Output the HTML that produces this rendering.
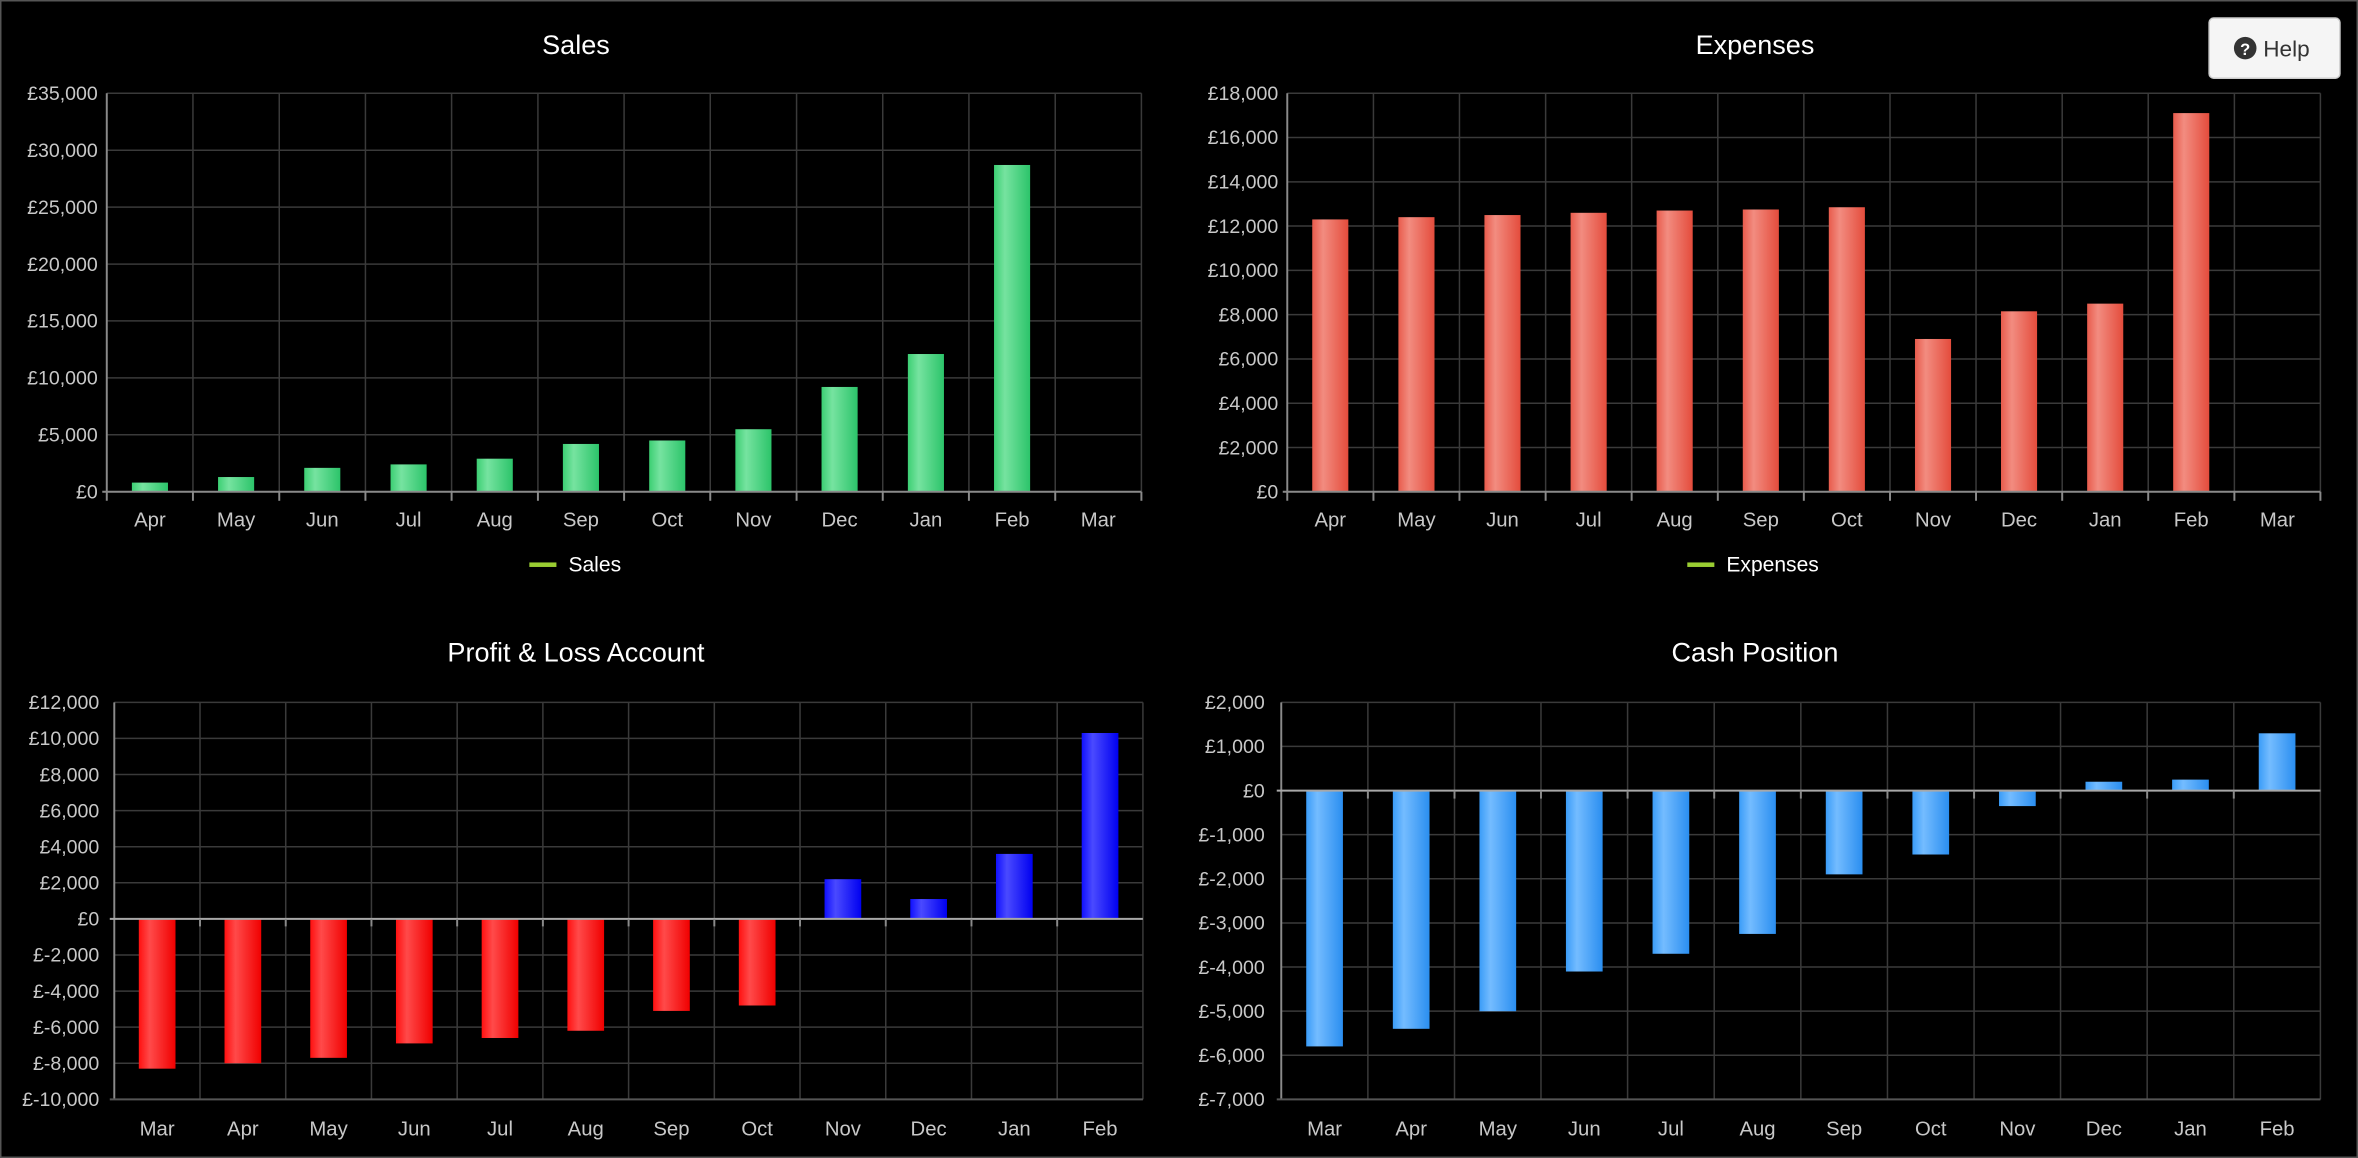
<!DOCTYPE html>
<html><head><meta charset="utf-8"><style>
html,body{margin:0;padding:0;background:#000;width:2358px;height:1158px;overflow:hidden}
svg{display:block}
text{font-family:"Liberation Sans",sans-serif}
.yl{fill:#c8c8c8;font-size:13px;text-anchor:end}
.xl{fill:#c8c8c8;font-size:13.5px;text-anchor:middle}
.t{fill:#fff;font-size:18px;text-anchor:middle}
.g{stroke:#3a3a3a;stroke-width:1}
.ax{stroke:#8a8a8a;stroke-width:1.3}
</style></head><body>
<svg width="2358" height="1158" viewBox="0 0 1568 770" preserveAspectRatio="none">
<defs>
<linearGradient id="gg" x1="0" x2="1"><stop offset="0" stop-color="#3ccf73"/><stop offset="0.3" stop-color="#76e3a0"/><stop offset="1" stop-color="#2cc46a"/></linearGradient>
<linearGradient id="gr" x1="0" x2="1"><stop offset="0" stop-color="#e85b4c"/><stop offset="0.3" stop-color="#f28c80"/><stop offset="1" stop-color="#e44c3c"/></linearGradient>
<linearGradient id="gp" x1="0" x2="1"><stop offset="0" stop-color="#ff1010"/><stop offset="0.3" stop-color="#ff4a4a"/><stop offset="1" stop-color="#f00000"/></linearGradient>
<linearGradient id="gb" x1="0" x2="1"><stop offset="0" stop-color="#1010ff"/><stop offset="0.3" stop-color="#4a4aff"/><stop offset="1" stop-color="#0000f0"/></linearGradient>
<linearGradient id="gc" x1="0" x2="1"><stop offset="0" stop-color="#3a9cf8"/><stop offset="0.3" stop-color="#74bcff"/><stop offset="1" stop-color="#2a8ef0"/></linearGradient>
</defs>
<rect x="0.5" y="0.5" width="1567" height="769" fill="#000" stroke="#555"/>

<!-- SALES -->
<text class="t" x="383" y="36">Sales</text>
<g class="g">
<line x1="71" y1="289.1" x2="759" y2="289.1"/><line x1="71" y1="251.3" x2="759" y2="251.3"/><line x1="71" y1="213.4" x2="759" y2="213.4"/><line x1="71" y1="175.6" x2="759" y2="175.6"/><line x1="71" y1="137.7" x2="759" y2="137.7"/><line x1="71" y1="99.9" x2="759" y2="99.9"/><line x1="71" y1="62" x2="759" y2="62"/>
<line x1="128.3" y1="62" x2="128.3" y2="327"/><line x1="185.7" y1="62" x2="185.7" y2="327"/><line x1="243" y1="62" x2="243" y2="327"/><line x1="300.3" y1="62" x2="300.3" y2="327"/><line x1="357.7" y1="62" x2="357.7" y2="327"/><line x1="415" y1="62" x2="415" y2="327"/><line x1="472.3" y1="62" x2="472.3" y2="327"/><line x1="529.7" y1="62" x2="529.7" y2="327"/><line x1="587" y1="62" x2="587" y2="327"/><line x1="644.3" y1="62" x2="644.3" y2="327"/><line x1="701.7" y1="62" x2="701.7" y2="327"/><line x1="759" y1="62" x2="759" y2="327"/>
</g>
<g fill="url(#gg)">
<rect x="87.7" y="320.9" width="24" height="6.1"/><rect x="145" y="317.2" width="24" height="9.8"/><rect x="202.3" y="311.1" width="24" height="15.9"/><rect x="259.7" y="308.8" width="24" height="18.2"/><rect x="317" y="305" width="24" height="22"/><rect x="374.3" y="295.2" width="24" height="31.8"/><rect x="431.7" y="292.9" width="24" height="34.1"/><rect x="489" y="285.4" width="24" height="41.6"/><rect x="546.3" y="257.3" width="24" height="69.7"/><rect x="603.7" y="235.4" width="24" height="91.6"/><rect x="661" y="109.7" width="24" height="217.3"/>
</g>
<g class="ax"><line x1="71" y1="62" x2="71" y2="333"/><line x1="68" y1="327" x2="759" y2="327"/>
<line x1="128.3" y1="327" x2="128.3" y2="333"/><line x1="185.7" y1="327" x2="185.7" y2="333"/><line x1="243" y1="327" x2="243" y2="333"/><line x1="300.3" y1="327" x2="300.3" y2="333"/><line x1="357.7" y1="327" x2="357.7" y2="333"/><line x1="415" y1="327" x2="415" y2="333"/><line x1="472.3" y1="327" x2="472.3" y2="333"/><line x1="529.7" y1="327" x2="529.7" y2="333"/><line x1="587" y1="327" x2="587" y2="333"/><line x1="644.3" y1="327" x2="644.3" y2="333"/><line x1="701.7" y1="327" x2="701.7" y2="333"/><line x1="759" y1="327" x2="759" y2="333"/></g>
<g class="yl">
<text x="65" y="331.5">£0</text><text x="65" y="293.6">£5,000</text><text x="65" y="255.8">£10,000</text><text x="65" y="217.9">£15,000</text><text x="65" y="180.1">£20,000</text><text x="65" y="142.2">£25,000</text><text x="65" y="104.4">£30,000</text><text x="65" y="66.5">£35,000</text>
</g>
<g class="xl">
<text x="99.7" y="350">Apr</text><text x="157" y="350">May</text><text x="214.3" y="350">Jun</text><text x="271.7" y="350">Jul</text><text x="329" y="350">Aug</text><text x="386.3" y="350">Sep</text><text x="443.7" y="350">Oct</text><text x="501" y="350">Nov</text><text x="558.3" y="350">Dec</text><text x="615.7" y="350">Jan</text><text x="673" y="350">Feb</text><text x="730.3" y="350">Mar</text>
</g>
<rect x="352" y="374" width="18" height="3" fill="#9acd32"/>
<text x="378" y="380" fill="#fff" font-size="14">Sales</text>

<!-- EXPENSES -->
<text class="t" x="1167" y="36">Expenses</text>
<g class="g">
<line x1="856" y1="297.6" x2="1543" y2="297.6"/><line x1="856" y1="268.1" x2="1543" y2="268.1"/><line x1="856" y1="238.7" x2="1543" y2="238.7"/><line x1="856" y1="209.2" x2="1543" y2="209.2"/><line x1="856" y1="179.8" x2="1543" y2="179.8"/><line x1="856" y1="150.3" x2="1543" y2="150.3"/><line x1="856" y1="120.9" x2="1543" y2="120.9"/><line x1="856" y1="91.4" x2="1543" y2="91.4"/><line x1="856" y1="62" x2="1543" y2="62"/>
<line x1="913.3" y1="62" x2="913.3" y2="327"/><line x1="970.5" y1="62" x2="970.5" y2="327"/><line x1="1027.8" y1="62" x2="1027.8" y2="327"/><line x1="1085" y1="62" x2="1085" y2="327"/><line x1="1142.3" y1="62" x2="1142.3" y2="327"/><line x1="1199.5" y1="62" x2="1199.5" y2="327"/><line x1="1256.8" y1="62" x2="1256.8" y2="327"/><line x1="1314" y1="62" x2="1314" y2="327"/><line x1="1371.3" y1="62" x2="1371.3" y2="327"/><line x1="1428.5" y1="62" x2="1428.5" y2="327"/><line x1="1485.8" y1="62" x2="1485.8" y2="327"/><line x1="1543" y1="62" x2="1543" y2="327"/>
</g>
<g fill="url(#gr)">
<rect x="872.6" y="145.9" width="24" height="181.1"/><rect x="929.9" y="144.4" width="24" height="182.6"/><rect x="987.1" y="143" width="24" height="184"/><rect x="1044.4" y="141.5" width="24" height="185.5"/><rect x="1101.6" y="140" width="24" height="187"/><rect x="1158.9" y="139.3" width="24" height="187.7"/><rect x="1216.1" y="137.8" width="24" height="189.2"/><rect x="1273.4" y="225.4" width="24" height="101.6"/><rect x="1330.6" y="207" width="24" height="120"/><rect x="1387.9" y="201.9" width="24" height="125.1"/><rect x="1445.1" y="75.2" width="24" height="251.8"/>
</g>
<g class="ax"><line x1="856" y1="62" x2="856" y2="333"/><line x1="853" y1="327" x2="1543" y2="327"/>
<line x1="913.3" y1="327" x2="913.3" y2="333"/><line x1="970.5" y1="327" x2="970.5" y2="333"/><line x1="1027.8" y1="327" x2="1027.8" y2="333"/><line x1="1085" y1="327" x2="1085" y2="333"/><line x1="1142.3" y1="327" x2="1142.3" y2="333"/><line x1="1199.5" y1="327" x2="1199.5" y2="333"/><line x1="1256.8" y1="327" x2="1256.8" y2="333"/><line x1="1314" y1="327" x2="1314" y2="333"/><line x1="1371.3" y1="327" x2="1371.3" y2="333"/><line x1="1428.5" y1="327" x2="1428.5" y2="333"/><line x1="1485.8" y1="327" x2="1485.8" y2="333"/><line x1="1543" y1="327" x2="1543" y2="333"/></g>
<g class="yl">
<text x="850" y="331.5">£0</text><text x="850" y="302.1">£2,000</text><text x="850" y="272.6">£4,000</text><text x="850" y="243.2">£6,000</text><text x="850" y="213.7">£8,000</text><text x="850" y="184.3">£10,000</text><text x="850" y="154.8">£12,000</text><text x="850" y="125.4">£14,000</text><text x="850" y="95.9">£16,000</text><text x="850" y="66.5">£18,000</text>
</g>
<g class="xl">
<text x="884.6" y="350">Apr</text><text x="941.9" y="350">May</text><text x="999.1" y="350">Jun</text><text x="1056.4" y="350">Jul</text><text x="1113.6" y="350">Aug</text><text x="1170.9" y="350">Sep</text><text x="1228.1" y="350">Oct</text><text x="1285.4" y="350">Nov</text><text x="1342.6" y="350">Dec</text><text x="1399.9" y="350">Jan</text><text x="1457.1" y="350">Feb</text><text x="1514.4" y="350">Mar</text>
</g>
<rect x="1122" y="374" width="18" height="3" fill="#9acd32"/>
<text x="1148" y="380" fill="#fff" font-size="14">Expenses</text>

<!-- HELP -->
<rect x="1469" y="12" width="87" height="40" rx="3" fill="#f5f5f5" stroke="#ccc"/>
<circle cx="1493" cy="32" r="7.5" fill="#333"/>
<text x="1493" y="36.5" fill="#fff" font-size="11" font-weight="bold" text-anchor="middle">?</text>
<text x="1505" y="37.5" fill="#333" font-size="15">Help</text>

<!-- P&L -->
<text class="t" x="383" y="440">Profit &amp; Loss Account</text>
<g class="g">
<line x1="76" y1="467" x2="760" y2="467"/><line x1="76" y1="491" x2="760" y2="491"/><line x1="76" y1="515" x2="760" y2="515"/><line x1="76" y1="539" x2="760" y2="539"/><line x1="76" y1="563" x2="760" y2="563"/><line x1="76" y1="587" x2="760" y2="587"/><line x1="76" y1="635" x2="760" y2="635"/><line x1="76" y1="659" x2="760" y2="659"/><line x1="76" y1="683" x2="760" y2="683"/><line x1="76" y1="707" x2="760" y2="707"/><line x1="76" y1="731" x2="760" y2="731"/>
<line x1="133" y1="467" x2="133" y2="731"/><line x1="190" y1="467" x2="190" y2="731"/><line x1="247" y1="467" x2="247" y2="731"/><line x1="304" y1="467" x2="304" y2="731"/><line x1="361" y1="467" x2="361" y2="731"/><line x1="418" y1="467" x2="418" y2="731"/><line x1="475" y1="467" x2="475" y2="731"/><line x1="532" y1="467" x2="532" y2="731"/><line x1="589" y1="467" x2="589" y2="731"/><line x1="646" y1="467" x2="646" y2="731"/><line x1="703" y1="467" x2="703" y2="731"/><line x1="760" y1="467" x2="760" y2="731"/>
</g>
<g fill="url(#gp)">
<rect x="92.3" y="611" width="24.4" height="99.6"/><rect x="149.3" y="611" width="24.4" height="96"/><rect x="206.3" y="611" width="24.4" height="92.4"/><rect x="263.3" y="611" width="24.4" height="82.8"/><rect x="320.3" y="611" width="24.4" height="79.2"/><rect x="377.3" y="611" width="24.4" height="74.4"/><rect x="434.3" y="611" width="24.4" height="61.2"/><rect x="491.3" y="611" width="24.4" height="57.6"/>
</g>
<g fill="url(#gb)">
<rect x="548.3" y="584.6" width="24.4" height="26.4"/><rect x="605.3" y="597.8" width="24.4" height="13.2"/><rect x="662.3" y="567.8" width="24.4" height="43.2"/><rect x="719.3" y="487.4" width="24.4" height="123.6"/>
</g>
<g class="ax"><line x1="76" y1="467" x2="76" y2="731"/><line x1="73" y1="611" x2="760" y2="611" stroke="#a8a8a8"/><line x1="73" y1="731" x2="760" y2="731" stroke="#555"/>
<line x1="133" y1="611" x2="133" y2="616"/><line x1="190" y1="611" x2="190" y2="616"/><line x1="247" y1="611" x2="247" y2="616"/><line x1="304" y1="611" x2="304" y2="616"/><line x1="361" y1="611" x2="361" y2="616"/><line x1="418" y1="611" x2="418" y2="616"/><line x1="475" y1="611" x2="475" y2="616"/><line x1="532" y1="611" x2="532" y2="616"/><line x1="589" y1="611" x2="589" y2="616"/><line x1="646" y1="611" x2="646" y2="616"/><line x1="703" y1="611" x2="703" y2="616"/></g>
<g class="yl">
<text x="66" y="471.5">£12,000</text><text x="66" y="495.5">£10,000</text><text x="66" y="519.5">£8,000</text><text x="66" y="543.5">£6,000</text><text x="66" y="567.5">£4,000</text><text x="66" y="591.5">£2,000</text><text x="66" y="615.5">£0</text><text x="66" y="639.5">£-2,000</text><text x="66" y="663.5">£-4,000</text><text x="66" y="687.5">£-6,000</text><text x="66" y="711.5">£-8,000</text><text x="66" y="735.5">£-10,000</text>
</g>
<g class="xl">
<text x="104.5" y="755">Mar</text><text x="161.5" y="755">Apr</text><text x="218.5" y="755">May</text><text x="275.5" y="755">Jun</text><text x="332.5" y="755">Jul</text><text x="389.5" y="755">Aug</text><text x="446.5" y="755">Sep</text><text x="503.5" y="755">Oct</text><text x="560.5" y="755">Nov</text><text x="617.5" y="755">Dec</text><text x="674.5" y="755">Jan</text><text x="731.5" y="755">Feb</text>
</g>

<!-- CASH -->
<text class="t" x="1167" y="440">Cash Position</text>
<g class="g">
<line x1="852" y1="467" x2="1543" y2="467"/><line x1="852" y1="496.3" x2="1543" y2="496.3"/><line x1="852" y1="555" x2="1543" y2="555"/><line x1="852" y1="584.3" x2="1543" y2="584.3"/><line x1="852" y1="613.7" x2="1543" y2="613.7"/><line x1="852" y1="643" x2="1543" y2="643"/><line x1="852" y1="672.3" x2="1543" y2="672.3"/><line x1="852" y1="701.7" x2="1543" y2="701.7"/><line x1="852" y1="731" x2="1543" y2="731"/>
<line x1="909.6" y1="467" x2="909.6" y2="731"/><line x1="967.2" y1="467" x2="967.2" y2="731"/><line x1="1024.7" y1="467" x2="1024.7" y2="731"/><line x1="1082.3" y1="467" x2="1082.3" y2="731"/><line x1="1139.9" y1="467" x2="1139.9" y2="731"/><line x1="1197.5" y1="467" x2="1197.5" y2="731"/><line x1="1255.1" y1="467" x2="1255.1" y2="731"/><line x1="1312.7" y1="467" x2="1312.7" y2="731"/><line x1="1370.2" y1="467" x2="1370.2" y2="731"/><line x1="1427.8" y1="467" x2="1427.8" y2="731"/><line x1="1485.4" y1="467" x2="1485.4" y2="731"/><line x1="1543" y1="467" x2="1543" y2="731"/>
</g>
<g fill="url(#gc)">
<rect x="868.6" y="525.7" width="24.4" height="170.1"/><rect x="926.2" y="525.7" width="24.4" height="158.4"/><rect x="983.8" y="525.7" width="24.4" height="146.7"/><rect x="1041.3" y="525.7" width="24.4" height="120.3"/><rect x="1098.9" y="525.7" width="24.4" height="108.5"/><rect x="1156.5" y="525.7" width="24.4" height="95.3"/><rect x="1214.1" y="525.7" width="24.4" height="55.7"/><rect x="1271.7" y="525.7" width="24.4" height="42.5"/><rect x="1329.3" y="525.7" width="24.4" height="10.3"/>
<rect x="1386.8" y="519.8" width="24.4" height="5.9"/><rect x="1444.4" y="518.4" width="24.4" height="7.3"/><rect x="1502" y="487.6" width="24.4" height="38.1"/>
</g>
<g class="ax"><line x1="852" y1="467" x2="852" y2="731"/><line x1="849" y1="525.7" x2="1543" y2="525.7" stroke="#a8a8a8"/><line x1="849" y1="731" x2="1543" y2="731" stroke="#555"/>
<line x1="909.6" y1="525.7" x2="909.6" y2="531"/><line x1="967.2" y1="525.7" x2="967.2" y2="531"/><line x1="1024.7" y1="525.7" x2="1024.7" y2="531"/><line x1="1082.3" y1="525.7" x2="1082.3" y2="531"/><line x1="1139.9" y1="525.7" x2="1139.9" y2="531"/><line x1="1197.5" y1="525.7" x2="1197.5" y2="531"/><line x1="1255.1" y1="525.7" x2="1255.1" y2="531"/><line x1="1312.7" y1="525.7" x2="1312.7" y2="531"/><line x1="1370.2" y1="525.7" x2="1370.2" y2="531"/><line x1="1427.8" y1="525.7" x2="1427.8" y2="531"/><line x1="1485.4" y1="525.7" x2="1485.4" y2="531"/></g>
<g class="yl">
<text x="841" y="471.5">£2,000</text><text x="841" y="500.8">£1,000</text><text x="841" y="530.2">£0</text><text x="841" y="559.5">£-1,000</text><text x="841" y="588.8">£-2,000</text><text x="841" y="618.2">£-3,000</text><text x="841" y="647.5">£-4,000</text><text x="841" y="676.8">£-5,000</text><text x="841" y="706.2">£-6,000</text><text x="841" y="735.5">£-7,000</text>
</g>
<g class="xl">
<text x="880.8" y="755">Mar</text><text x="938.4" y="755">Apr</text><text x="996" y="755">May</text><text x="1053.5" y="755">Jun</text><text x="1111.1" y="755">Jul</text><text x="1168.7" y="755">Aug</text><text x="1226.3" y="755">Sep</text><text x="1283.9" y="755">Oct</text><text x="1341.5" y="755">Nov</text><text x="1399" y="755">Dec</text><text x="1456.6" y="755">Jan</text><text x="1514.2" y="755">Feb</text>
</g>
</svg>
</body></html>
